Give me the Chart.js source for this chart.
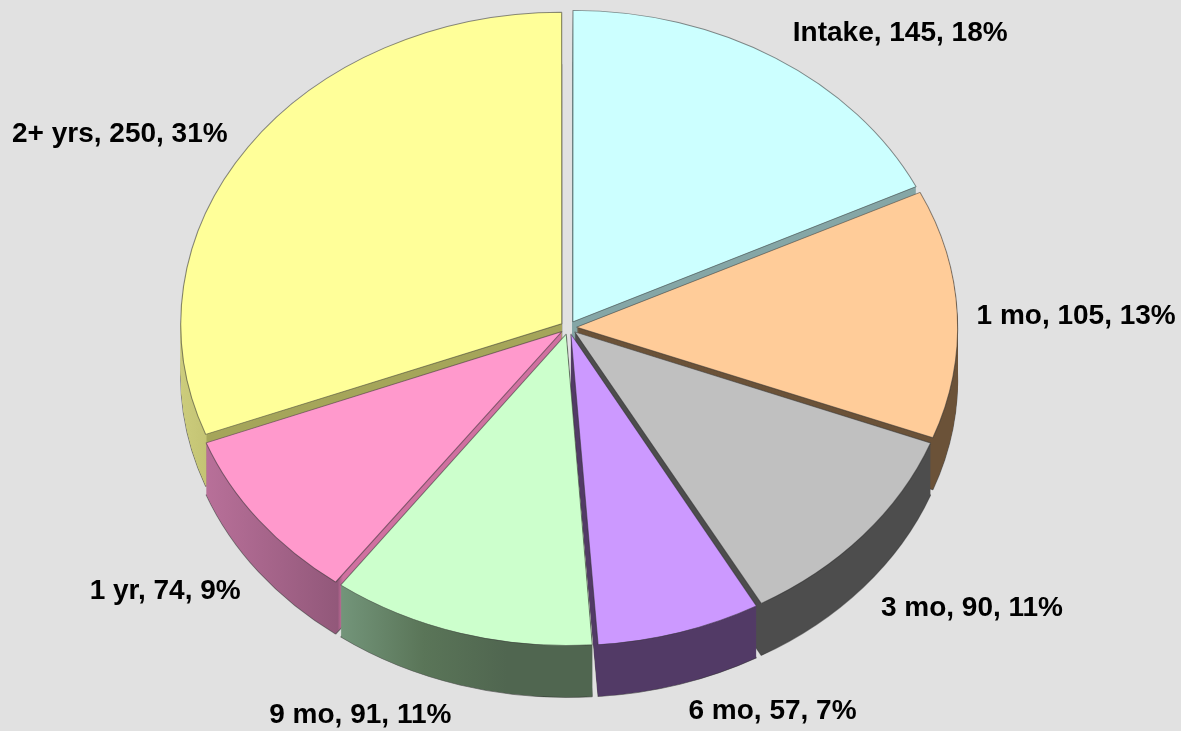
<!DOCTYPE html>
<html>
<head>
<meta charset="utf-8">
<style>
html,body{margin:0;padding:0;background:#e1e1e1;overflow:hidden}
canvas{display:block}
</style>
<script src="https://cdn.jsdelivr.net/npm/chart.js@4/dist/chart.umd.min.js"></script>
</head>
<body>
<canvas id="c" width="1181" height="731"></canvas>
<script>
const categories = ['Intake','1 mo','3 mo','6 mo','9 mo','1 yr','2+ yrs'];
const counts = [145,105,90,57,91,74,250];
const percents = ['18%','13%','11%','7%','11%','9%','31%'];
const topColors = ['#CCFFFF','#FFCC99','#C0C0C0','#CC99FF','#CCFFCC','#FF99CC','#FFFF99'];
const wallStops = [
  [[0,'#85a6a6'],[1,'#85a6a6']],
  [[0,'#6b5238'],[1,'#6b5238']],
  [[0,'#4d4d4d'],[1,'#4d4d4d']],
  [[0,'#523a66'],[1,'#523a66']],
  [[0,'#73957a'],[0.33,'#5a7558'],[0.66,'#506650'],[1,'#506650']],
  [[0,'#b87099'],[0.37,'#92587a'],[0.385,'#d070a0'],[1,'#d070a0']],
  [[0,'#cccc7c'],[0.065,'#c4c474'],[0.07,'#a5a55a'],[1,'#a5a55a']]
];
const labelShift = [[129,-30],[127,2],[115,77],[95,85],[-102,89],[-100,75],[-135,-16]];

const explode = 30;
const view = {cx:568.5, cy:327.5, rx:381, ry:311.5, depth:52};

function applyView(ctx, chart, dy){
  const R = chart.getDatasetMeta(0).controller.outerRadius, el = chart.getDatasetMeta(0).data[0];
  ctx.translate(view.cx, view.cy + dy);
  ctx.scale(view.rx / R, view.ry / R);
  ctx.translate(-el.x, -el.y);
}
const pie3d = {
  id:'pie3d',
  beforeDatasetsDraw(chart){
    const ctx = chart.ctx, meta = chart.getDatasetMeta(0), arcs = meta.data, R = meta.controller.outerRadius;
    // cancel the radius growth Chart.js gives narrow offset arcs, so every slice keeps one radius
    arcs.forEach(el=>{
      const fix = 1 - Math.sin(Math.min(Math.PI, el.circumference));
      el.outerRadius = R - (explode/4)*fix;
    });
    const order = arcs.map((a,i)=>i).sort((p,q)=>
      Math.sin((arcs[p].startAngle+arcs[p].endAngle)/2) - Math.sin((arcs[q].startAngle+arcs[q].endAngle)/2));
    order.forEach(i=>{
      const el = arcs[i], base = el.options;
      const xs = [el.x, el.x+R*Math.cos(el.startAngle), el.x+R*Math.cos(el.endAngle)];
      for (let a=-2*Math.PI; a<=2*Math.PI; a+=Math.PI){ if (a>el.startAngle && a<el.endAngle) xs.push(el.x+R*Math.cos(a)); }
      const g = ctx.createLinearGradient(Math.min(...xs),0,Math.max(...xs),0);
      wallStops[i].forEach(s=>g.addColorStop(s[0],s[1]));
      for (let d=view.depth; d>=1; d--){
        ctx.save();
        applyView(ctx, chart, d);
        el.options = Object.assign({}, base, {backgroundColor:g, borderColor:'rgba(40,40,40,0.55)', borderWidth:d===view.depth?1:0});
        el.draw(ctx);
        ctx.restore();
      }
      el.options = base;
    });
    ctx.save();
    applyView(ctx, chart, 0);
  },
  afterDatasetsDraw(chart){ chart.ctx.restore(); },
  afterDraw(chart){
    const ctx = chart.ctx, arcs = chart.getDatasetMeta(0).data;
    ctx.save();
    ctx.fillStyle = '#000';
    ctx.font = 'bold 28px "Liberation Sans", Arial, sans-serif';
    ctx.textAlign = 'center';
    ctx.textBaseline = 'middle';
    arcs.forEach((el,i)=>{
      const mid = (el.startAngle+el.endAngle)/2;
      const x = view.cx + view.rx*Math.cos(mid) + labelShift[i][0];
      const y = view.cy + view.ry*Math.sin(mid) + labelShift[i][1];
      ctx.fillText(categories[i]+', '+counts[i]+', '+percents[i], x, y);
    });
    ctx.restore();
  }
};
new Chart(document.getElementById('c'), {
  type:'pie',
  data:{labels:categories, datasets:[{data:counts, backgroundColor:topColors, borderColor:'rgba(50,50,50,0.55)', borderWidth:1, offset:explode, clip:false}]},
  options:{
    responsive:false, animation:false,
    layout:{padding:0},
    plugins:{legend:{display:false}, tooltip:{enabled:false}}
  },
  plugins:[pie3d]
});
</script>
</body>
</html>
